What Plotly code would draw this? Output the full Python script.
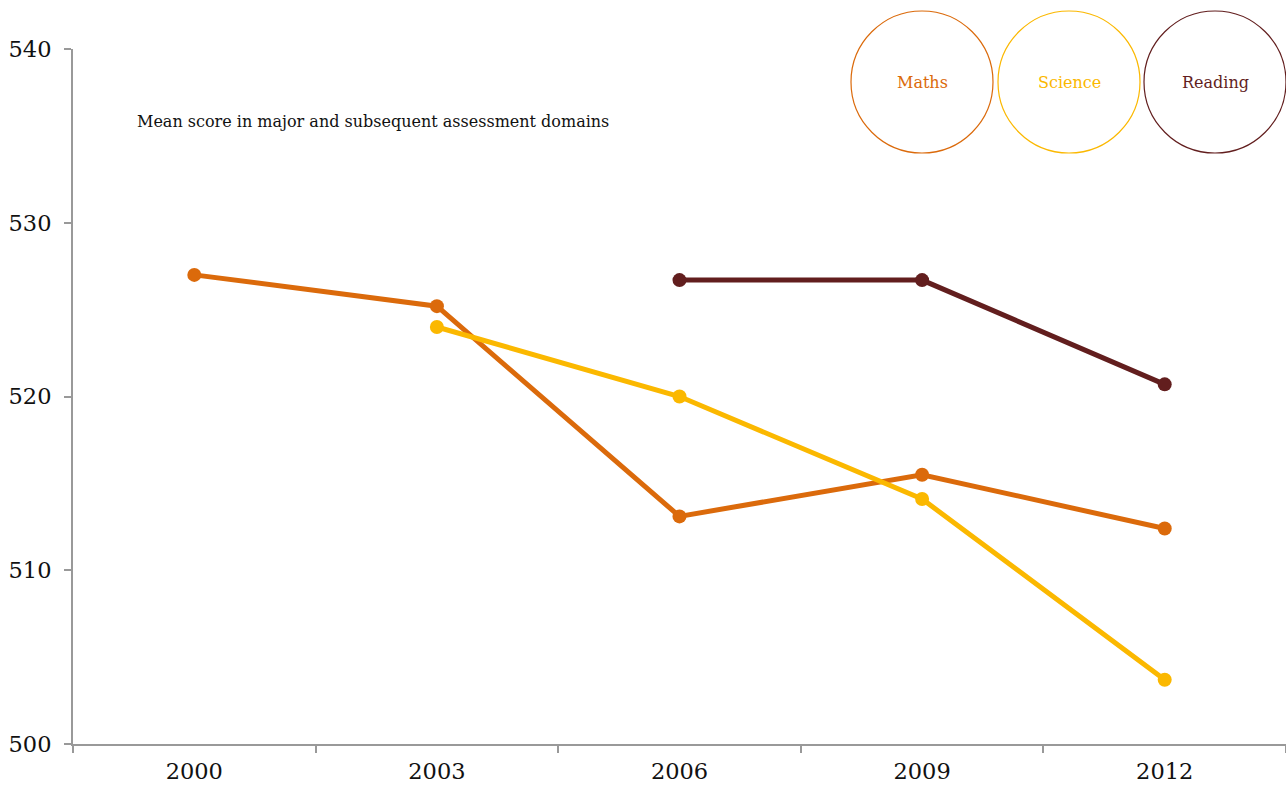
import plotly.graph_objects as go

years = ["2000", "2003", "2006", "2009", "2012"]
maths = [527.0, 525.2, 513.1, 515.5, 512.4]
science = [None, 524.0, 520.0, 514.1, 503.7]
reading = [None, None, 526.7, 526.7, 520.7]

series_names = ["Maths", "Science", "Reading"]
colors = ["#DB6A0B", "#FBB800", "#621E1E"]
title_text = "Mean score in major and subsequent assessment domains"
y_ticks = [500, 510, 520, 530, 540]

FONT = "DejaVu Serif"
W, H = 1286, 785
ML, MR, MT, MB = 73, 0, 49, 41
PW, PH = W - ML - MR, H - MT - MB

fig = go.Figure()
for name, vals, col in zip(series_names, [maths, science, reading], colors):
    xs = [y for y, v in zip(years, vals) if v is not None]
    ys = [v for v in vals if v is not None]
    fig.add_trace(go.Scatter(x=xs, y=ys, mode="lines+markers", name=name,
                             line=dict(color=col, width=5),
                             marker=dict(color=col, size=14),
                             showlegend=False))

# circle legend
centers_px = [922, 1069, 1215]
cy_px = 82
r = 71
for cx, name, col in zip(centers_px, series_names, colors):
    xp = (cx - ML) / PW
    yp = (H - MB - cy_px) / PH
    fig.add_shape(type="circle", xref="paper", yref="paper",
                  xsizemode="pixel", ysizemode="pixel",
                  xanchor=xp, yanchor=yp, x0=-r, x1=r, y0=-r, y1=r,
                  line=dict(color=col, width=1.2), fillcolor="rgba(0,0,0,0)")
    fig.add_annotation(xref="paper", yref="paper", x=xp, y=yp, text=name,
                       showarrow=False, xanchor="center", yanchor="middle",
                       font=dict(family=FONT, size=16, color=col))

fig.add_annotation(xref="paper", yref="paper", x=(135 - ML) / PW,
                   y=(H - MB - 122) / PH, text=title_text, showarrow=False,
                   xanchor="left", yanchor="middle",
                   font=dict(family=FONT, size=16, color="#111111"))

fig.update_xaxes(type="category", range=[-0.5, 4.5], showline=True,
                 linecolor="#999999", linewidth=2, ticks="outside",
                 tickson="boundaries", ticklen=7, tickcolor="#999999",
                 tickwidth=2, showgrid=False, zeroline=False,
                 ticklabelstandoff=6,
                 tickfont=dict(family=FONT, size=22.5, color="#111111"))
fig.update_yaxes(range=[500, 540], tickvals=y_ticks, showline=True,
                 linecolor="#999999", linewidth=2, ticks="outside",
                 ticklen=7, tickcolor="#999999", tickwidth=2,
                 showgrid=False, zeroline=False, ticklabelstandoff=8,
                 tickfont=dict(family=FONT, size=22.5, color="#111111"))

fig.update_layout(width=W, height=H, margin=dict(l=ML, r=MR, t=MT, b=MB),
                  plot_bgcolor="white", paper_bgcolor="white")
fig.update_yaxes(automargin=False)
fig.update_xaxes(automargin=False)

fig.write_html("out.html")
